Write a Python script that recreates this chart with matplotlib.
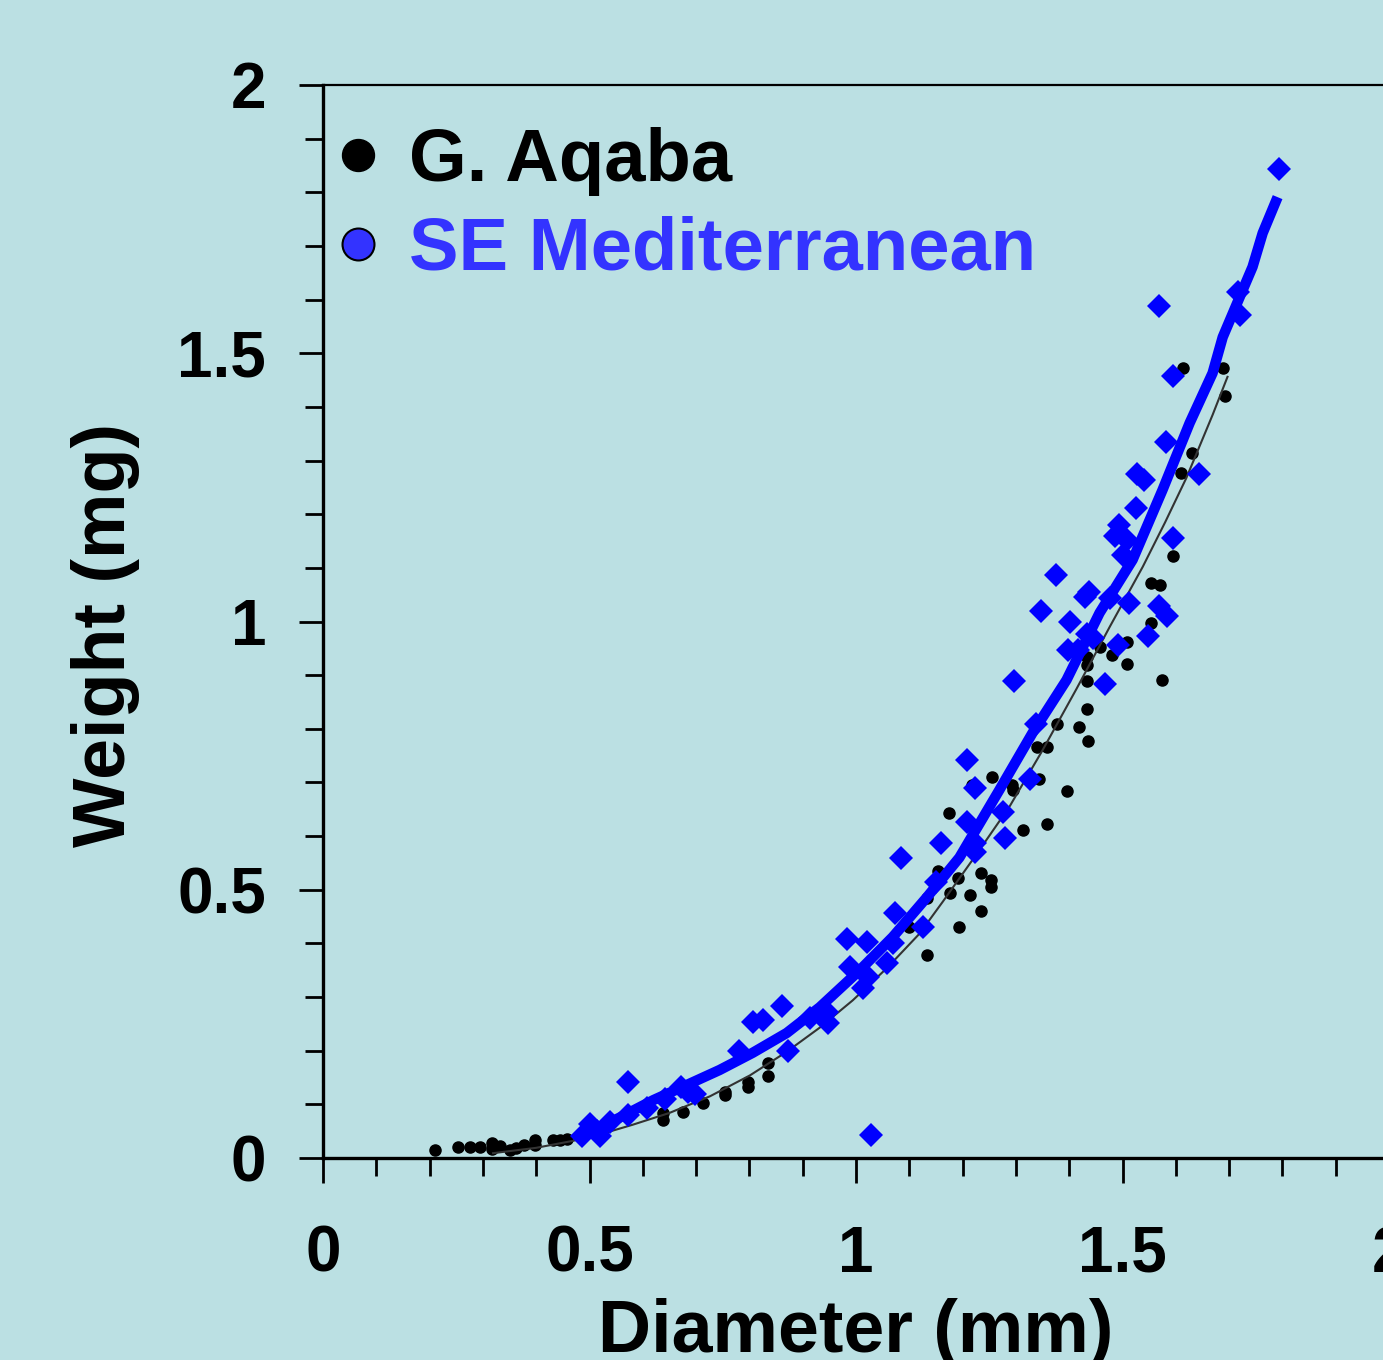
import numpy as np
import matplotlib.pyplot as plt
from matplotlib.lines import Line2D

# Colours
BG = '#bbe0e3'
BLUE = '#0000ff'
LEGEND_BLUE = '#3333ff'

# G. Aqaba (black dots): diameter (mm), weight (mg)
aqaba_d = [0.210, 0.253, 0.276, 0.294, 0.317, 0.317, 0.332, 0.351, 0.362, 0.377,
           0.398, 0.398, 0.431, 0.444, 0.458, 0.638, 0.638, 0.675, 0.713, 0.754,
           0.754, 0.797, 0.797, 0.834, 0.834, 1.099, 1.133, 1.134, 1.153, 1.176,
           1.191, 1.194, 1.213, 1.234, 1.234, 1.254, 1.254, 1.174, 1.217, 1.256,
           1.292, 1.294, 1.313, 1.358, 1.339, 1.358, 1.344, 1.395, 1.378, 1.418,
           1.433, 1.436, 1.434, 1.434, 1.434, 1.457, 1.481, 1.509, 1.509, 1.575,
           1.553, 1.554, 1.571, 1.594, 1.609, 1.631, 1.613, 1.689, 1.693]
aqaba_w = [0.015, 0.020, 0.020, 0.020, 0.028, 0.017, 0.022, 0.015, 0.019, 0.024,
           0.034, 0.024, 0.034, 0.034, 0.035, 0.084, 0.071, 0.086, 0.103, 0.123,
           0.117, 0.142, 0.132, 0.177, 0.153, 0.431, 0.378, 0.485, 0.535, 0.494,
           0.522, 0.431, 0.490, 0.531, 0.460, 0.518, 0.505, 0.643, 0.695, 0.710,
           0.695, 0.686, 0.611, 0.623, 0.766, 0.766, 0.706, 0.684, 0.809, 0.803,
           0.837, 0.777, 0.889, 0.934, 0.919, 0.952, 0.938, 0.962, 0.921, 0.891,
           0.997, 1.072, 1.068, 1.122, 1.277, 1.314, 1.473, 1.473, 1.420]

# G. Aqaba fitted curve
aqaba_fit_d = [0.319, 0.400, 0.469, 0.530, 0.581, 0.650, 0.726, 0.801, 0.870, 0.932,
               0.994, 1.058, 1.119, 1.163, 1.226, 1.288, 1.350, 1.414, 1.476, 1.538,
               1.580, 1.620, 1.669, 1.697]
aqaba_fit_w = [0.009, 0.019, 0.032, 0.047, 0.062, 0.084, 0.115, 0.154, 0.198, 0.243,
               0.294, 0.354, 0.418, 0.478, 0.566, 0.655, 0.760, 0.875, 0.990, 1.102,
               1.185, 1.268, 1.385, 1.456]

# SE Mediterranean (blue diamonds)
med_d = [1.794, 1.716, 1.721, 1.569, 1.594, 1.581, 1.644, 1.528, 1.541, 1.526,
         1.494, 1.485, 1.509, 1.594, 1.500, 1.513, 1.476, 1.376, 1.429, 1.438,
         1.348, 1.401, 1.569, 1.584, 1.547, 1.433, 1.444, 1.491, 1.397, 1.416,
         1.468, 1.296, 1.337, 1.326, 1.209, 1.224, 1.275, 1.208, 1.223, 1.223,
         1.279, 1.159, 1.084, 1.151, 1.125, 1.073, 1.069, 1.059, 1.020, 0.984,
         0.988, 1.013, 1.022, 1.028, 0.947, 0.945, 0.913, 0.861, 0.872, 0.825,
         0.806, 0.780, 0.698, 0.684, 0.671, 0.641, 0.608, 0.572, 0.572, 0.538,
         0.514, 0.501, 0.486, 0.519]
med_w = [1.843, 1.614, 1.571, 1.588, 1.458, 1.335, 1.275, 1.275, 1.264, 1.212,
         1.180, 1.159, 1.152, 1.156, 1.124, 1.034, 1.044, 1.087, 1.046, 1.055,
         1.020, 0.999, 1.029, 1.010, 0.973, 0.977, 0.969, 0.956, 0.947, 0.947,
         0.884, 0.889, 0.809, 0.706, 0.742, 0.690, 0.645, 0.626, 0.587, 0.570,
         0.596, 0.587, 0.559, 0.514, 0.431, 0.457, 0.401, 0.363, 0.403, 0.408,
         0.356, 0.317, 0.337, 0.043, 0.252, 0.272, 0.261, 0.283, 0.199, 0.257,
         0.253, 0.199, 0.119, 0.123, 0.132, 0.110, 0.093, 0.142, 0.080, 0.067,
         0.050, 0.063, 0.041, 0.041]

# SE Mediterranean smoothed curve
med_fit_d = [0.490, 0.550, 0.620, 0.680, 0.744, 0.806, 0.870, 0.932, 1.007, 1.069,
             1.133, 1.194, 1.269, 1.331, 1.395, 1.457, 1.519, 1.575, 1.626, 1.669,
             1.688, 1.720, 1.744, 1.763, 1.791]
med_fit_w = [0.045, 0.072, 0.108, 0.135, 0.164, 0.196, 0.233, 0.281, 0.350, 0.412,
             0.486, 0.560, 0.686, 0.792, 0.891, 1.016, 1.115, 1.245, 1.370, 1.463,
             1.530, 1.605, 1.661, 1.724, 1.791]

plt.rcParams['font.family'] = ['Liberation Sans', 'DejaVu Sans']
plt.rcParams['font.weight'] = 'bold'

fig = plt.figure(figsize=(13.83, 13.6), dpi=100)
fig.patch.set_facecolor(BG)
ax = fig.add_axes([323 / 1383, 202 / 1360, 1066 / 1383, 1073 / 1360])
ax.set_facecolor(BG)

ax.plot(aqaba_d, aqaba_w, 'o', color='black', ms=8, zorder=2)
ax.plot(aqaba_fit_d, aqaba_fit_w, '-', color='#333333', lw=1.5, zorder=3)
ax.plot(med_fit_d, med_fit_w, '-', color=BLUE, lw=7.5, solid_capstyle='butt',
        solid_joinstyle='round', zorder=4)
ax.plot(med_d, med_w, 'D', color=BLUE, ms=12.5, mew=0, zorder=5)

ax.set_xlim(0, 2)
ax.set_ylim(0, 2)
ax.set_xticks(np.arange(0, 2.01, 0.5))
ax.set_xticklabels(['0', '0.5', '1', '1.5', '2'])
ax.set_yticks(np.arange(0, 2.01, 0.5))
ax.set_yticklabels(['0', '0.5', '1', '1.5', '2'])
ax.set_xticks(np.arange(0, 2.01, 0.1), minor=True)
ax.set_yticks(np.arange(0, 2.01, 0.1), minor=True)
ax.tick_params(which='major', direction='out', length=18, width=2, labelsize=46, pad=30)
ax.tick_params(which='minor', direction='out', length=13, width=2)
ax.tick_params(axis='y', which='major', length=17, pad=24)

ax.spines['right'].set_visible(False)
ax.spines['top'].set_linewidth(1.6)
ax.spines['left'].set_linewidth(2.4)
ax.spines['bottom'].set_linewidth(2.4)

ax.set_xlabel('Diameter (mm)', fontsize=53, fontweight='bold')
ax.set_ylabel('Weight (mg)', fontsize=53, fontweight='bold')
ax.xaxis.set_label_coords(0.5, -0.163)
ax.xaxis.label.set_verticalalignment('center')
ax.yaxis.set_label_coords(-0.204, 0.487)
ax.yaxis.label.set_verticalalignment('center')

handles = [
    Line2D([], [], ls='', marker='o', ms=23, color='black'),
    Line2D([], [], ls='', marker='o', ms=23, markerfacecolor=LEGEND_BLUE,
           markeredgecolor='black', markeredgewidth=1.5),
]
ax.legend(handles, ['G. Aqaba', 'SE Mediterranean'], loc='upper left',
          bbox_to_anchor=(0.012, 0.961), borderaxespad=0, borderpad=0,
          frameon=False, handlelength=0.6, handletextpad=0.39, labelspacing=0.27,
          labelcolor=['black', LEGEND_BLUE],
          prop={'family': 'Liberation Sans', 'weight': 'bold', 'size': 53.5})

fig.savefig('out.png', dpi=100, facecolor=BG)
